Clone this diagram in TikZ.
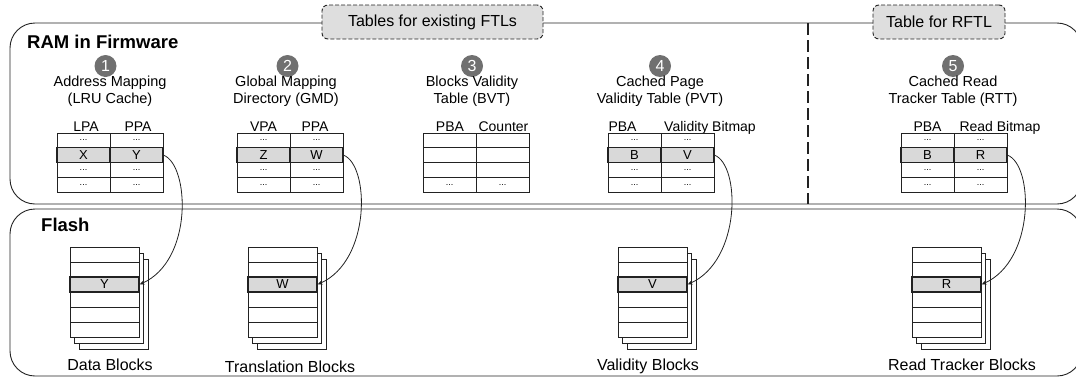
\documentclass[tikz,border=0pt]{standalone}
\usepackage{fontspec}
\setmainfont{Liberation Sans}
\usepackage{xcolor}
\usepackage{tikz}
\usetikzlibrary{arrows.meta, positioning, calc}
\definecolor{cellgray}{HTML}{D9D9D9}
\definecolor{tagfill}{HTML}{DEDEDE}
\definecolor{dotgray}{HTML}{707070}
\definecolor{linegray}{HTML}{222222}
\newcommand{\fsz}[1]{\fontsize{#1}{#1}\selectfont}
\newcommand{\celldots}{{\fsz{9}...}}

\begin{document}
\begin{tikzpicture}[x=1pt, y=-1pt, >=Stealth,
  region/.style={draw=linegray, line width=0.9pt, rounded corners=25pt},
  tagbox/.style={draw=linegray, dash pattern=on 4pt off 2pt, line width=0.9pt,
    rounded corners=6pt, fill=tagfill, minimum height=34pt, inner sep=0pt, font=\fsz{16}},
  divider/.style={draw=linegray, line width=1.3pt, dash pattern=on 12pt off 5pt},
  title/.style={font=\bfseries\fsz{18.5}, inner sep=0pt},
  numdot/.style={circle, fill=dotgray, minimum size=22pt, inner sep=0pt,
    text=white, font=\fsz{16}},
  lbl/.style={font=\fontsize{14.5}{16.5}\selectfont, align=center, inner sep=0pt},
  colhd/.style={font=\fsz{14}, inner sep=0pt, anchor=base},
  cell/.style={draw=linegray, line width=0.8pt, minimum width=53pt, minimum height=14.75pt,
    inner sep=0pt, font=\fsz{13}},
  hotcell/.style={cell, fill=cellgray, line width=1.05pt},
  page/.style={draw=linegray, line width=0.8pt, fill=white, minimum width=69pt,
    minimum height=90pt, inner sep=0pt},
  slot/.style={draw=linegray, line width=0.8pt, fill=white, minimum width=69pt,
    minimum height=15pt, inner sep=0pt, font=\fsz{13}},
  hotslot/.style={slot, fill=cellgray, line width=1.05pt},
  blbl/.style={font=\fsz{16}, inner sep=0pt, anchor=base},
  link/.style={->, draw=linegray, line width=0.8pt, >={Stealth[length=5pt, width=4pt]}}
]
  \useasboundingbox (0,0) rectangle (1076,378);
  \clip (0,0) rectangle (1076,378);

  % the two memory regions
  \draw[region] (10,23) rectangle (1082,204);
  \draw[region] (10,209) rectangle (1082,376);
  \draw[divider] (808,23) -- (808,204);

  \node[tagbox, minimum width=221pt] (ftltag) at (432.5,22) {Tables for existing FTLs};
  \node[tagbox, minimum width=132pt] (rftltag) at (939,22) {Table for RFTL};
  \node[title, anchor=base west] (ramlbl) at (27,48) {RAM in Firmware};
  \node[title, anchor=base west] (flashlbl) at (41,231) {Flash};

  % table headings
  \node[numdot] (n1) at (105.5,66) {1};
  \node[numdot] (n2) at (287.5,66) {2};
  \node[numdot] (n3) at (472,66) {3};
  \node[numdot] (n4) at (660,66) {4};
  \node[numdot] (n5) at (953,66) {5};
  \node[lbl] (h1) at (110,91) {Address Mapping\\(LRU Cache)};
  \node[lbl] (h2) at (286,91) {Global Mapping\\Directory (GMD)};
  \node[lbl] (h3) at (472,91) {Blocks Validity\\Table (BVT)};
  \node[lbl] (h4) at (660,91) {Cached Page\\Validity Table (PVT)};
  \node[lbl] (h5) at (953,91) {Cached Read\\Tracker Table (RTT)};

  \node[colhd] (c1a) at (86,131) {LPA};
  \node[colhd] (c1b) at (138,131) {PPA};
  \node[colhd] (c2a) at (263.5,131) {VPA};
  \node[colhd] (c2b) at (315,131) {PPA};
  \node[colhd] (c3a) at (450,131) {PBA};
  \node[colhd] (c3b) at (503.5,131) {Counter};
  \node[colhd] (c4a) at (622.5,131) {PBA};
  \node[colhd] (c4b) at (710,131) {Validity Bitmap};
  \node[colhd] (c5a) at (927.5,131) {PBA};
  \node[colhd] (c5b) at (1000,131) {Read Bitmap};

  % table cells
  \foreach \t/\x/\a/\b in {1/57/X/Y, 2/237/Z/W, 4/608/B/V, 5/901/B/R} {
    \foreach \r in {1,3,4} {
      \node[cell] (t\t-r\r a) at (\x+26.5, 125.625+14.75*\r) {\celldots};
      \node[cell] (t\t-r\r b) at (\x+79.5, 125.625+14.75*\r) {\celldots};
    }
    \node[hotcell] (t\t-hota) at (\x+26.5, 155.125) {\a};
    \node[hotcell] (t\t-hotb) at (\x+79.5, 155.125) {\b};
  }
  \foreach \r in {1,2,3} {
    \node[cell] (t3-r\r a) at (449.5, 125.625+14.75*\r) {};
    \node[cell] (t3-r\r b) at (502.5, 125.625+14.75*\r) {};
  }
  \node[cell] (t3-r4a) at (449.5, 184.625) {\celldots};
  \node[cell] (t3-r4b) at (502.5, 184.625) {\celldots};

  % flash block stacks
  \foreach \s/\x/\v in {d/70/Y, t/248/W, v/618/V, r/912/R} {
    \node[page] (\s-back2) at (\x+9+34.5, 304) {};
    \node[page] (\s-back1) at (\x+4.5+34.5, 298) {};
    \foreach \r in {1,2,4,5,6}
      \node[slot] (\s-r\r) at (\x+34.5, 239.5+15*\r) {};
    \node[hotslot] (\s-hot) at (\x+34.5, 284.5) {\v};
  }
  \node[blbl] (dlbl) at (110,370) {Data Blocks};
  \node[blbl] (tlbl) at (290,372) {Translation Blocks};
  \node[blbl] (vlbl) at (648,370) {Validity Blocks};
  \node[blbl] (rlbl) at (962,370) {Read Tracker Blocks};

  % table entries point into flash
  \draw[link] (t1-hotb.east) .. controls +(26,10) and +(54,-24) .. (d-hot.east);
  \draw[link] (t2-hotb.east) .. controls +(26,10) and +(54,-24) .. (t-hot.east);
  \draw[link] (t4-hotb.east) .. controls +(26,10) and +(54,-24) .. (v-hot.east);
  \draw[link] (t5-hotb.east) .. controls +(26,10) and +(54,-24) .. (r-hot.east);
\end{tikzpicture}
\end{document}
